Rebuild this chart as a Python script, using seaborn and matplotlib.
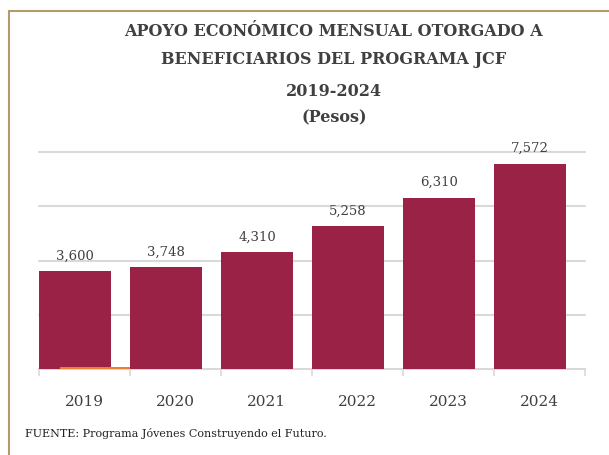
import matplotlib
matplotlib.use("Agg")
import matplotlib.pyplot as plt
import seaborn as sns
import pandas as pd
import numpy as np
from matplotlib.lines import Line2D

years = ["2019", "2020", "2021", "2022", "2023", "2024"]
apoyo = [3600, 3748, 4310, 5258, 6310, 7572]
serie2 = [60, 0, 0, 0, 0, 0]
value_labels = ["3,600", "3,748", "4,310", "5,258", "6,310", "7,572"]
title_lines = ["APOYO ECONÓMICO MENSUAL OTORGADO A",
               "BENEFICIARIOS DEL PROGRAMA JCF",
               "2019-2024",
               "(Pesos)"]
source = "FUENTE: Programa Jóvenes Construyendo el Futuro."

sns.set_theme(style="white")
plt.rcParams['font.family'] = ['DejaVu Serif']

MAROON = "#9B2247"
ORANGE = "#ED7D31"
TXT = "#404040"
GRID = "#D9D9D9"

fig = plt.figure(figsize=(6.09, 4.56), dpi=100)
ax = fig.add_axes([39/609, 1 - 370/456, 546/609, 217/456])

df = pd.DataFrame({"year": years, "apoyo": apoyo, "serie2": serie2})
bw = 0.79
sns.barplot(data=df, x="year", y="apoyo", color=MAROON, width=bw,
            saturation=1, ax=ax, zorder=3)
n_main = len(ax.patches)
sns.barplot(data=df, x="year", y="serie2", color=ORANGE, width=0.767,
            saturation=1, ax=ax, zorder=4)
# shift bars: maroon left-aligned at category start, orange offset
for i, p in enumerate(ax.patches):
    if i < n_main:
        p.set_x(p.get_x() - 0.105)
    else:
        p.set_x(p.get_x() + 0.1165)
    p.set_edgecolor("none")

ax.set_xlim(-0.5, len(years) - 0.5)
ax.set_ylim(0, 8000)
ax.set_yticks([2000, 4000, 6000, 8000])
ax.yaxis.grid(True, color=GRID, lw=1.5, zorder=0)
for gl in ax.get_ygridlines():
    gl.set_clip_on(False)
ax.set_axisbelow(True)
ax.tick_params(axis="y", left=False, labelleft=False)
for s in ["top", "right", "left"]:
    ax.spines[s].set_visible(False)
ax.spines["bottom"].set_color(GRID)
ax.spines["bottom"].set_linewidth(1.5)
ax.spines["bottom"].set_zorder(2)

ax.set_xticks(range(len(years)))
ax.set_xticklabels(years, fontsize=11, color=TXT)
ax.set_xticks(np.arange(len(years) + 1) - 0.5, minor=True)
ax.tick_params(axis="x", which="major", length=0, pad=18)
ax.tick_params(axis="x", which="minor", length=5, width=1.2, color=GRID, bottom=True)
ax.set_xlabel("")
ax.set_ylabel("")

for i, (v, lab) in enumerate(zip(apoyo, value_labels)):
    ax.annotate(lab, (i - 0.105, v), xytext=(0, 7), textcoords="offset points",
                ha="center", va="bottom", fontsize=9.5, color=TXT, clip_on=False)

ys = [32, 60, 91, 118]
for line, y in zip(title_lines, ys):
    fig.text(334/609, 1 - y/456, line, ha="center", va="center",
             fontsize=11.5, fontweight="bold", color=TXT)

fig.text(25/609, 1 - 434/456, source, ha="left", va="center", fontsize=8, color="#222222")

fig.add_artist(Line2D([9/609, 1], [1 - 12/456, 1 - 12/456], color="#B59A6E", lw=1.5))
fig.add_artist(Line2D([9/609, 9/609], [0, 1 - 12/456], color="#B59A6E", lw=1.5))

fig.savefig("out.png", dpi=100)
